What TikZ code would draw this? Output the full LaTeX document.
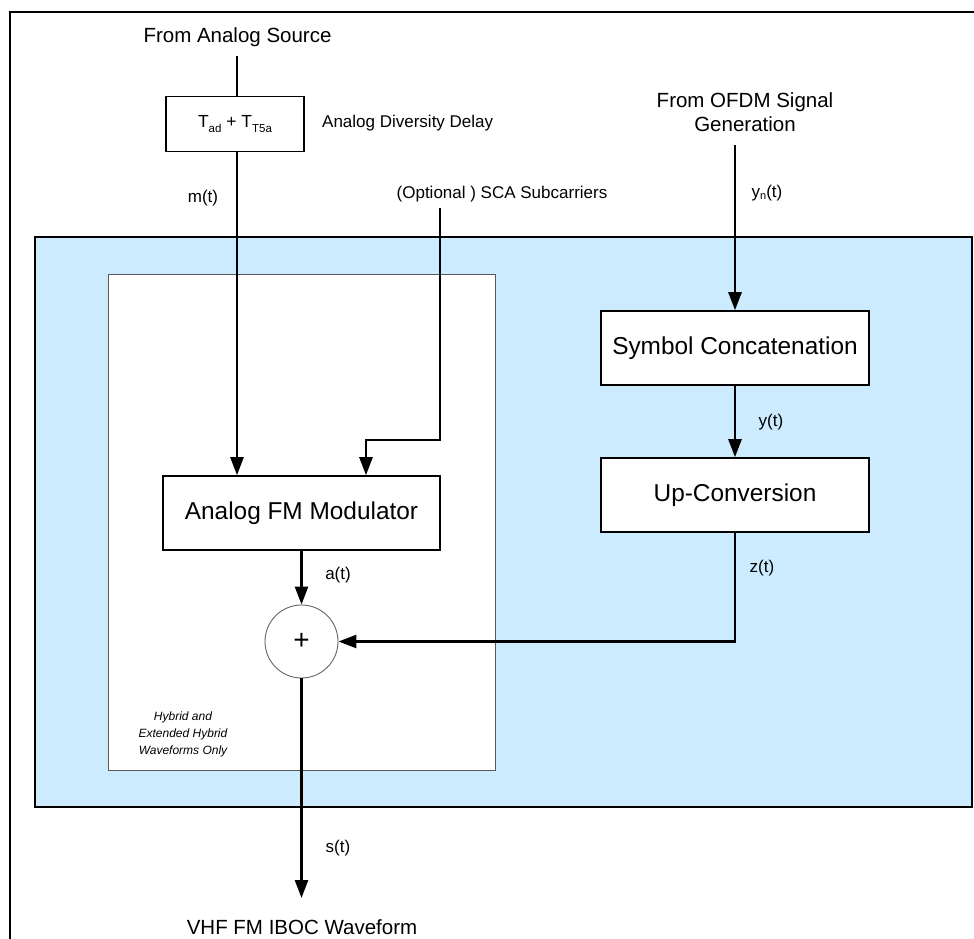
\documentclass[tikz,border=0pt]{standalone}
\usepackage{fontspec}
\setmainfont{Liberation Sans}
\usetikzlibrary{arrows.meta}
\definecolor{panelblue}{RGB}{204,235,255}
\begin{document}
\begin{tikzpicture}[x=1pt,y=-1pt,
  blk/.style={draw=black, line width=1.6pt, fill=white, inner sep=0pt, font=\fontsize{24.4}{28}\selectfont},
  lbl/.style={inner sep=0pt, font=\fontsize{17}{20}\selectfont},
  biglbl/.style={inner sep=0pt, font=\fontsize{20.5}{24}\selectfont, align=center},
  sumnode/.style={circle, draw=black!60, line width=0.9pt, fill=white, minimum size=73pt, inner sep=0pt},
  conn/.style={line width=2.6pt},
  arr/.style={conn, -{Triangle[length=18pt,width=13pt]}},
]
\useasboundingbox (0,0) rectangle (974,939);
\fill[white] (0,0) rectangle (974,939);
% outer frame (cut at right and bottom)
\draw[line width=2.4pt] (980,12) -- (10,12) -- (10,945);
% blue panel
\draw[line width=2.8pt, fill=panelblue] (35,237) rectangle (972,807);
% inner white region
\draw[line width=1pt, draw=black!65, fill=white] (108,274) rectangle (495,770);

% blocks
\node[blk, minimum width=138pt, minimum height=55pt, font=\fontsize{17.5}{20}\selectfont] (delay) at (235,124)
  {T\raisebox{-0.25em}{\fontsize{11.5}{12}\selectfont ad} + T\raisebox{-0.25em}{\fontsize{11.5}{12}\selectfont T5a}};
\node[blk, minimum width=277pt, minimum height=74pt] (afm) at (301.5,513) {Analog FM Modulator};
\node[blk, minimum width=268pt, minimum height=74pt] (symcat) at (735,348) {Symbol Concatenation};
\node[blk, minimum width=268pt, minimum height=74pt] (upconv) at (735,495) {Up-Conversion};
\node[sumnode] (sum) at (301.5,641.5) {\fontsize{28}{28}\selectfont +};

% free ends
\coordinate (src) at (237,56);
\coordinate (sca) at (440,208);
\coordinate (scaturn) at (366,440);
\coordinate (ofdm) at (735,145);
\coordinate (out) at (301.5,898);

% connectors
\draw[conn] (src) -- (src |- delay.north);
\draw[arr] (src |- delay.south) -- (src |- afm.north);
\draw[arr] (sca) |- (scaturn) -- (scaturn |- afm.north);
\draw[arr] (ofdm) -- (symcat.north);
\draw[arr] (symcat.south) -- (upconv.north);
\draw[arr] (afm.south) -- (sum.north);
\draw[arr] (upconv.south) |- (sum.east);
\draw[arr] (sum.south) -- (out);

% labels
\node[biglbl] (lsrc) at (237.5,37) {From Analog Source};
\node[lbl, anchor=west] (ldelay) at (322,123) {Analog Diversity Delay};
\node[lbl] (lm) at (203,198) {m(t)};
\node[lbl] (lsca) at (502,194) {(Optional ) SCA Subcarriers};
\node[biglbl] (lofdm) at (745,112) {From OFDM Signal\\Generation};
\node[lbl] (lyn) at (767,193) {y\raisebox{-0.15em}{\fontsize{11}{11}\selectfont n}(t)};
\node[lbl] (ly) at (771,422) {y(t)};
\node[lbl] (lz) at (762,568) {z(t)};
\node[lbl] (la) at (338,575) {a(t)};
\node[lbl] (ls) at (338,848) {s(t)};
\node[inner sep=0pt, align=center, font=\itshape\fontsize{12}{17}\selectfont] (lhyb) at (183,734)
  {Hybrid and\\Extended Hybrid\\Waveforms Only};
\node[biglbl] (lvhf) at (302,927) {VHF FM IBOC Waveform};
\end{tikzpicture}
\end{document}
